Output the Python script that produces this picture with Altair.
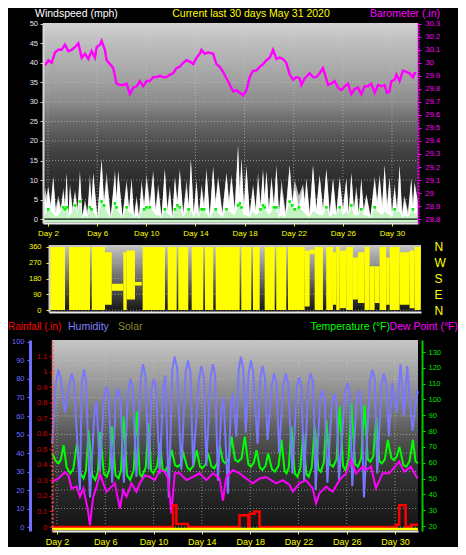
import altair as alt
import pandas as pd

FONT = "Liberation Sans"

# ---------------- data ----------------
day_ticks = [2, 6, 10, 14, 18, 22, 26, 30]
wind_ticks = [0, 5, 10, 15, 20, 25, 30, 35, 40, 45, 50]
baro_ticks = [28.8, 28.9, 29.0, 29.1, 29.2, 29.3, 29.4, 29.5, 29.6, 29.7, 29.8, 29.9, 30.0, 30.1, 30.2, 30.3]
dir_ticks = [0, 90, 180, 270, 360]
dir_names = ["N", "E", "S", "W", "N"]
hum_ticks = [0, 10, 20, 30, 40, 50, 60, 70, 80, 90, 100]
rain_ticks = [0, 0.1, 0.2, 0.3, 0.4, 0.5, 0.6, 0.7, 0.8, 0.9, 1.0, 1.1]
temp_ticks = [20, 30, 40, 50, 60, 70, 80, 90, 100, 110, 120, 130]

# wind (mph): day, average (white), gust (grey), low/avg (light green)
wind_t = [1.60, 1.76, 1.89, 2.02, 2.22, 2.43, 2.63, 2.84, 3.05, 3.25,
          3.38, 3.52, 3.66, 3.79, 4.00, 4.20, 4.40, 4.60, 4.80, 5.01,
          5.21, 5.41, 5.55, 5.68, 6.02, 6.36, 6.56, 6.77, 7.11, 7.45,
          7.58, 7.72, 8.06, 8.40, 8.60, 8.80, 9.00, 9.21, 9.41, 9.62,
          9.82, 10.02, 10.29, 10.56, 10.76, 10.97, 11.24, 11.51, 11.71, 11.92,
          12.12, 12.33, 12.53, 12.73, 13.00, 13.28, 13.45, 13.63, 13.86, 14.09,
          14.29, 14.50, 14.70, 14.90, 15.17, 15.44, 15.64, 15.85, 16.19, 16.53,
          16.73, 16.93, 17.20, 17.47, 17.61, 17.75, 17.95, 18.15, 18.42, 18.69,
          18.90, 19.10, 19.30, 19.50, 19.64, 19.78, 19.98, 20.19, 20.39, 20.59,
          20.80, 21.00, 21.33, 21.67, 21.88, 22.08, 22.42, 22.76, 22.90, 23.03,
          23.30, 23.57, 23.84, 24.11, 24.38, 24.66, 24.93, 25.20, 25.47, 25.74,
          26.01, 26.28, 26.48, 26.69, 26.90, 27.10, 27.30, 27.50, 27.70, 27.91,
          28.25, 28.59, 28.79, 28.99, 29.20, 29.40, 29.60, 29.80, 30.00, 30.21,
          30.41, 30.62, 30.82, 31.02, 31.30, 31.57, 31.70, 31.84, 32.10]
wind_avg = [3, 6, 4, 8, 3, 10.5, 1.5, 5, 2, 7,
            3, 11.5, 0.5, 8, 2, 6.5, 1.5, 11.5, 0.5, 4,
            1, 9.5, 4, 11.5, 0.3, 15, 4, 10, 0.3, 11.5,
            5, 12, 0.3, 9, 2, 10, 0.5, 5, 0.3, 9,
            3, 10, 3, 11.5, 2, 7.5, 0.3, 12.5, 2, 7,
            0.3, 10, 4, 12, 1, 8, 3, 15, 1, 9.5,
            0.5, 8, 3, 12, 0.5, 13, 4, 10, 1, 11.5,
            4, 10.5, 2, 18.5, 6, 15, 3, 13, 1, 8,
            2, 10, 3, 12, 5, 12, 2, 10, 3, 13,
            1, 8, 1, 13.5, 4, 8, 3, 8, 4, 10,
            1, 13.5, 2, 11, 2, 12.5, 1, 10, 1, 10,
            2, 10, 1, 11.5, 2, 7, 1, 10, 1.5, 6,
            0.5, 10, 4, 10.5, 3, 13.5, 3, 10, 1, 8,
            2, 13.5, 1, 5, 1, 10, 3, 9, 4]
wind_gust = [4, 8, 6, 8.5, 4, 11, 3, 6, 3, 8,
             4, 12, 1.5, 9, 3, 7.5, 3, 12.5, 1, 5,
             2, 11.5, 5, 12, 1, 15.5, 5, 12, 1, 12.5,
             6, 12.5, 1, 10, 3, 10.5, 1, 6, 0.8, 10,
             4, 11.5, 4.5, 12.5, 3, 9, 1, 13, 3, 8.5,
             1, 11, 5, 13, 2, 10, 4, 15.5, 2, 10,
             1.5, 9, 4, 13, 1, 13.5, 5, 11, 2, 12,
             5, 11.5, 3, 19, 8, 15.5, 4, 14, 2, 9,
             3, 12, 4, 13, 6, 12.5, 3, 11, 4, 14,
             2, 10, 2, 14, 5, 10, 6, 9, 5, 10.5,
             2, 14, 3, 11.5, 3, 13, 2, 10.5, 2, 11,
             3, 10.5, 2, 12, 3, 8.5, 2, 10.5, 2.5, 6.5,
             1, 11, 5, 11.5, 4, 14, 4, 11, 2, 9,
             3, 14, 2, 6, 2, 10.5, 4, 9.5, 5]
wind_low = [0.5, 1, 2, 2.5, 2, 1.5, 0.5, 1, 2, 3,
            2.5, 3, 0.3, 1, 2, 3.5, 1.2, 4.5, 0.3, 1,
            0.5, 3, 2.5, 2, 0.2, 4.5, 3.5, 2, 0.2, 4,
            3, 2, 0.2, 3, 1.8, 1.5, 0.3, 1, 0.2, 2,
            2.5, 3, 3, 2, 1, 1, 0.2, 2.5, 1.5, 1,
            0.2, 2.5, 3.5, 3, 0.5, 2, 2.5, 2, 0.5, 2,
            0.3, 2.5, 2.5, 1.5, 0.3, 2, 2.5, 1.5, 0.5, 2.5,
            2, 1.5, 1, 3.5, 4, 3, 1, 1, 0.5, 2,
            1, 1.5, 2.5, 3.5, 3, 2, 1, 2, 3, 3,
            0.5, 1, 0.5, 4.5, 3.5, 2.5, 3, 2, 1.5, 1,
            0.5, 2, 1.5, 1, 1, 3, 0.5, 1.5, 1, 3,
            1, 2, 1, 3.5, 1, 1, 1, 2.5, 1, 1,
            0.3, 3, 2, 1.5, 1, 2, 1.5, 1, 0.5, 2.5,
            1.8, 2, 0.5, 1, 0.5, 2, 2.5, 1.5, 1]

# barometer (in)
baro_t = [1.76, 2.03, 2.30, 2.57, 2.84, 3.11, 3.38, 3.65, 3.92, 4.20,
          4.47, 4.74, 5.01, 5.28, 5.55, 5.82, 5.96, 6.23, 6.36, 6.63,
          6.77, 7.04, 7.31, 7.58, 7.85, 8.12, 8.40, 8.67, 8.94, 9.21,
          9.48, 9.75, 10.02, 10.29, 10.56, 10.83, 11.11, 11.38, 11.65, 11.92,
          12.19, 12.46, 12.73, 13.00, 13.27, 13.54, 13.82, 14.09, 14.36, 14.49,
          14.76, 15.04, 15.44, 15.71, 15.98, 16.25, 16.53, 16.80, 17.07, 17.34,
          17.61, 17.88, 18.15, 18.42, 18.69, 18.96, 19.24, 19.51, 19.78, 20.05,
          20.32, 20.59, 20.86, 21.13, 21.40, 21.67, 21.95, 22.22, 22.49, 22.62,
          22.89, 23.30, 23.57, 23.84, 24.11, 24.38, 24.52, 24.79, 25.06, 25.33,
          25.60, 25.88, 26.15, 26.42, 26.69, 26.96, 27.23, 27.50, 27.77, 28.04,
          28.31, 28.59, 28.86, 29.13, 29.40, 29.59, 29.80, 29.94, 30.21, 30.35,
          30.62, 30.89, 31.16, 31.43, 31.70, 31.84, 31.97]
baro_v = [29.98, 30.02, 30.00, 30.08, 30.10, 30.10, 30.14, 30.09, 30.10, 30.12,
          30.15, 30.04, 30.07, 30.03, 30.09, 30.04, 30.12, 30.14, 30.17, 30.10,
          30.02, 29.99, 29.96, 29.84, 29.83, 29.83, 29.84, 29.76, 29.81, 29.82,
          29.86, 29.82, 29.86, 29.86, 29.89, 29.89, 29.90, 29.89, 29.89, 29.91,
          29.92, 29.96, 29.97, 30.00, 30.02, 30.01, 29.99, 30.04, 30.07, 30.10,
          30.07, 30.08, 30.07, 29.99, 29.97, 29.93, 29.88, 29.83, 29.78, 29.79,
          29.77, 29.75, 29.79, 29.89, 29.94, 29.94, 29.97, 29.99, 30.02, 30.04,
          30.10, 30.03, 30.04, 30.03, 30.00, 29.91, 29.87, 29.89, 29.88, 29.83,
          29.88, 29.92, 29.89, 29.89, 29.92, 29.96, 29.92, 29.83, 29.84, 29.86,
          29.81, 29.79, 29.82, 29.84, 29.76, 29.80, 29.81, 29.76, 29.82, 29.82,
          29.84, 29.77, 29.83, 29.82, 29.83, 29.77, 29.78, 29.86, 29.87, 29.91,
          29.86, 29.94, 29.93, 29.92, 29.89, 29.92, 29.92]

# wind direction: spans of time and the range of directions swept
dir_start = [1.60, 3.24, 5.10, 6.19, 6.74, 7.69, 7.97, 8.65, 9.28, 11.33,
             12.20, 13.30, 14.39, 15.27, 17.37, 18.33, 19.29, 20.24, 21.20, 22.57,
             22.98, 23.39, 24.34, 24.89, 25.16, 25.44, 25.98, 26.53, 26.94, 27.49,
             27.90, 28.31, 28.72, 29.26, 29.54, 30.36, 31.18, 31.59]
dir_end = [2.91, 4.96, 6.19, 6.74, 7.69, 7.97, 8.65, 9.20, 11.11, 12.07,
           13.02, 14.25, 15.07, 17.24, 18.19, 18.88, 20.11, 21.06, 22.57, 22.98,
           23.39, 24.07, 24.89, 25.16, 25.44, 25.98, 26.53, 26.94, 27.49, 27.90,
           28.31, 28.72, 29.26, 29.54, 30.36, 31.18, 31.59, 32.10]
dir_lo = [0, 0, 0, 30, 110, 0, 60, 140, 0, 0,
          0, 0, 0, 0, 0, 0, 0, 0, 0, 20,
          320, 0, 0, 30, 0, 10, 0, 60, 40, 0,
          0, 40, 0, 30, 0, 30, 10, 0]
dir_hi = [360, 360, 360, 330, 150, 330, 340, 160, 360, 360,
          360, 360, 360, 360, 360, 360, 360, 360, 360, 340,
          345, 360, 360, 330, 360, 340, 360, 300, 330, 360,
          250, 250, 360, 300, 360, 330, 340, 360]

# humidity (%)
hum_t = [1.60, 1.91, 2.11, 2.31, 2.66, 3.01, 3.21, 3.41, 3.90, 4.05,
         4.23, 4.40, 4.73, 5.10, 5.28, 5.55, 5.90, 6.10, 6.28, 6.57,
         6.87, 7.07, 7.25, 7.54, 7.89, 8.09, 8.28, 8.58, 8.93, 9.13,
         9.32, 9.60, 9.84, 10.02, 10.20, 10.51, 10.80, 10.98, 11.26, 11.55,
         11.75, 11.95, 12.30, 12.65, 12.85, 13.05, 13.27, 13.76, 13.96, 14.15,
         14.37, 14.72, 14.92, 15.10, 15.33, 15.62, 15.80, 16.16, 16.40, 16.57,
         16.85, 17.05, 17.23, 17.42, 17.64, 17.88, 18.06, 18.25, 18.61, 18.84,
         19.02, 19.22, 19.44, 19.80, 19.99, 20.18, 20.40, 20.75, 20.95, 21.15,
         21.50, 21.86, 22.06, 22.25, 22.47, 22.82, 23.02, 23.22, 23.43, 23.78,
         23.98, 24.18, 24.40, 24.75, 24.95, 25.15, 25.36, 25.85, 26.05, 26.25,
         26.46, 26.81, 27.01, 27.21, 27.43, 27.92, 28.12, 28.32, 28.53, 28.88,
         29.08, 29.28, 29.49, 29.77, 30.13, 30.46, 30.73, 31.01, 31.45, 31.83,
         31.90]
hum_v = [45, 78, 85, 80, 62, 76, 83, 78, 20, 78,
         85, 79, 16, 62, 68, 30, 70, 76, 71, 24,
         69, 75, 70, 24, 73, 80, 75, 27, 80, 88,
         82, 31, 74, 80, 75, 29, 75, 82, 16, 85,
         92, 86, 31, 83, 90, 84, 33, 80, 87, 81,
         33, 81, 88, 82, 25, 64, 70, 18, 66, 72,
         49, 85, 92, 86, 51, 83, 90, 84, 45, 80,
         87, 81, 47, 77, 83, 78, 40, 77, 83, 78,
         29, 75, 81, 76, 25, 77, 83, 78, 20, 68,
         74, 69, 24, 66, 72, 67, 25, 72, 78, 73,
         22, 68, 74, 69, 16, 78, 85, 80, 29, 77,
         83, 77, 49, 78, 62, 88, 60, 87, 52, 74,
         72]

# temperature (F)
temp_t = [1.60, 1.90, 2.14, 2.32, 2.55, 2.80, 3.10, 3.35, 3.65, 3.95,
          4.20, 4.40, 4.62, 4.92, 5.17, 5.38, 5.58, 5.88, 6.13, 6.35,
          6.55, 6.85, 7.10, 7.30, 7.51, 7.80, 8.06, 8.35, 8.61, 8.85,
          9.02, 9.35, 9.58, 9.80, 9.99, 10.30, 10.54, 10.75, 10.95, 11.25,
          11.50, 11.78, 12.00, 12.25, 12.47, 12.80, 13.02, 13.30, 13.57, 13.85,
          14.04, 14.30, 14.53, 14.80, 15.03, 15.28, 15.50, 15.75, 15.97, 16.25,
          16.46, 16.75, 17.01, 17.30, 17.56, 17.85, 18.06, 18.30, 18.53, 18.80,
          19.02, 19.28, 19.49, 19.80, 20.04, 20.35, 20.60, 20.85, 21.01, 21.20,
          21.42, 21.70, 21.92, 22.15, 22.39, 22.65, 22.85, 23.10, 23.35, 23.65,
          23.85, 24.10, 24.31, 24.60, 24.87, 25.15, 25.42, 25.70, 25.88, 26.15,
          26.38, 26.70, 26.93, 27.20, 27.48, 27.75, 27.95, 28.20, 28.45, 28.70,
          28.91, 29.15, 29.41, 29.70, 29.91, 30.15, 30.37, 30.70, 30.93, 31.20,
          31.48, 31.70, 31.89]
temp_v = [66, 61, 59.6, 62, 71.2, 57, 53.3, 56, 72.3, 53,
          50.1, 55, 80.7, 52, 49.1, 54, 79.6, 53, 51.2, 56,
          82.8, 52, 50.1, 55, 89.1, 52, 49.1, 55, 92.3, 53,
          51.2, 57, 84.9, 55, 53.3, 58, 72.3, 56, 54.3, 59,
          68, 58.5, 57.5, 59, 65.9, 57, 55.4, 58, 68, 57.5,
          56.5, 59, 65.9, 57.5, 56.5, 60, 70.1, 61, 59.6, 63,
          76.5, 62, 60.7, 63, 76.5, 59, 57.5, 60, 68, 57,
          55.4, 58, 65.9, 56, 54.3, 58, 74.4, 55, 53.3, 57,
          82.8, 53, 51.2, 56, 78.6, 53, 51.2, 57, 82.8, 56,
          54.3, 60, 87, 59, 57.5, 62, 95.4, 58, 55.4, 62,
          97.5, 59, 57.5, 63, 96.5, 62, 60.7, 64, 89.1, 61,
          59.6, 62, 74.4, 63, 61.7, 64, 70.1, 58.5, 57.5, 61,
          74.4, 61, 59.6]

# dew point (F)
dew_t = [1.60, 2.11, 2.66, 2.94, 3.21, 3.63, 3.90, 4.18, 4.51, 4.73,
         5.00, 5.28, 5.55, 5.83, 6.10, 6.38, 6.79, 7.21, 7.48, 7.76,
         8.17, 8.58, 8.86, 9.27, 9.69, 10.10, 10.51, 10.93, 11.20, 11.48,
         11.75, 12.17, 12.72, 13.27, 13.82, 14.37, 14.92, 15.47, 15.75, 16.02,
         16.57, 17.12, 17.67, 18.23, 18.78, 19.33, 20.15, 20.71, 21.26, 21.53,
         22.08, 22.63, 23.18, 23.46, 23.74, 24.29, 24.84, 25.39, 25.94, 26.35,
         26.77, 27.32, 27.59, 28.01, 28.42, 28.97, 29.52, 30.35, 30.76, 31.31,
         31.86]
dew_v = [48, 50, 54, 52, 43.8, 44.9, 38.5, 43.8, 32, 20.6,
         38.5, 44.9, 53.3, 47, 41.7, 43.8, 47, 31, 42.8, 38.5,
         47, 41.7, 47, 52, 51, 49, 55.4, 54.3, 50, 28,
         53.3, 53.3, 49, 51, 53.3, 49, 53.3, 50, 36, 51,
         55.4, 53.3, 50, 47, 50, 51, 47, 49, 46, 41.7,
         47, 49, 43.8, 34.3, 40.6, 44.9, 41.7, 49, 53.3, 61.7,
         53.3, 57.5, 55.4, 57.5, 44, 53.3, 53.3, 60.7, 54.3, 57.5,
         50]

# rainfall (in), stepped
rain_t = [1.60, 11.55, 11.61, 11.89, 12.85, 17.12, 17.85, 17.95, 18.36, 18.78,
          30.07, 30.35, 30.88, 31.31, 31.90]
rain_v = [0, 0, 0.14, 0.02, 0, 0.075, 0, 0.085, 0.10, 0,
          0.015, 0.14, 0, 0.015, 0.015]

# solar (no readings above zero)
solar_t = [1.59, 31.90]
solar_v = [0, 0]

titles_top = ["Windspeed (mph)", "Current last 30 days May 31 2020", "Barometer (.in)"]
titles_bottom = ["Rainfall (.in)", "Humidity", "Solar", "Temperature (°F)", "Dew Point (°F)"]

# ---------------- layout (svg pixels) ----------------
W, H = 450, 539
TOP_X, TOP_Y = [35, 410], [215, 15]
MID_X, MID_Y = [41, 413], [304, 237]
BOT_X, BOT_Y = [44, 410], [523, 332]

TOP_XD = [1.593, 32.116]
WIND_D = [-1.0, 50.2]
BARO_D = [28.770, 30.306]
DIR_D = [-11.4, 371.4]
BOT_XD = [1.586, 31.905]
HUM_D = [-2.16, 101.08]
RAIN_D = [-0.0257, 1.203]
TEMP_D = [16.84, 137.59]
SOLAR_D = [0, 100]


def sc(dom, rng):
    return alt.Scale(domain=dom, range=rng, nice=False, zero=False)


def grad(stops):
    return alt.Gradient(gradient="linear", x1=0, x2=0, y1=0, y2=1,
                        stops=[alt.GradientStop(offset=o, color=c) for o, c in stops])


one = pd.DataFrame({"a": [0]})


def bg(xr, yr, stops):
    return alt.Chart(one).mark_rect(fill=grad(stops)).encode(
        x=alt.value(xr[0]), x2=alt.value(xr[1]), y=alt.value(yr[1]), y2=alt.value(yr[0]))


def vgrid(xdom, xr, yr):
    return alt.Chart(pd.DataFrame({"d": day_ticks})).mark_rule(
        color="#c8c8c8", strokeDash=[1, 2], strokeWidth=1, opacity=0.6).encode(
        x=alt.X("d:Q", scale=sc(xdom, xr), axis=None),
        y=alt.value(yr[1]), y2=alt.value(yr[0]))


def hgrid(vals, ydom, yr, xr):
    return alt.Chart(pd.DataFrame({"v": vals})).mark_rule(
        color="#c8c8c8", strokeDash=[1, 2], strokeWidth=1, opacity=0.6).encode(
        y=alt.Y("v:Q", scale=sc(ydom, yr), axis=None),
        x=alt.value(xr[0]), x2=alt.value(xr[1]))


def txt(s, x, y, color, align="left", size=10.5):
    return alt.Chart(pd.DataFrame({"t": [s]})).mark_text(
        align=align, baseline="alphabetic", color=color, fontSize=size, font=FONT).encode(
        x=alt.value(x), y=alt.value(y), text="t:N")


def yaxis(orient, offset, values, color, domain_color, tick_color, pad=3, size=7.5,
          dwidth=2, dash=None, expr=None):
    kw = dict(orient=orient, offset=offset, values=values, labelColor=color,
              labelFontSize=size, labelFont=FONT, tickColor=tick_color, tickSize=3,
              domainColor=domain_color, domainWidth=dwidth, grid=False, title=None,
              labelPadding=pad, zindex=1, labelFlush=False, labelOverlap=False)
    if dash:
        kw["domainDash"] = dash
    if expr:
        kw["labelExpr"] = expr
    return alt.Axis(**kw)


def xaxis(offset, size, labels=True):
    kw = dict(orient="bottom", offset=offset, values=day_ticks, grid=False, title=None,
              domainColor="#e8e8e8", domainWidth=2, tickColor="#ffff00", tickSize=3,
              zindex=1, labelFlush=False, labelOverlap=False)
    if labels:
        kw.update(labelExpr="'Day ' + datum.value", labelColor="#ffff00",
                  labelFontSize=size, labelFont=FONT, labelPadding=3)
    else:
        kw.update(labels=False, ticks=False)
    return alt.Axis(**kw)


fmt = "format(datum.value, '~g')"

# ---------------- top panel ----------------
wind = pd.DataFrame({"t": wind_t, "avg": wind_avg, "gust": wind_gust, "low": wind_low})
baro = pd.DataFrame({"t": baro_t, "v": baro_v})

top_bg = bg(TOP_X, TOP_Y, [(0, "#d2d2d2"), (0.1, "#bdbdbd"), (0.28, "#a2a2a2"),
                           (0.4, "#8a8a8a"), (0.48, "#6e6e6e"), (0.64, "#424242"),
                           (0.77, "#2e2e2e"), (1, "#1a1a1a")])
top_vg = vgrid(TOP_XD, TOP_X, TOP_Y)
top_hg = hgrid(wind_ticks, WIND_D, TOP_Y, TOP_X)

xt = dict(scale=sc(TOP_XD, TOP_X))
gust = alt.Chart(wind).mark_area(color="#bdbdbd").encode(
    x=alt.X("t:Q", axis=None, **xt),
    y=alt.Y("gust:Q", scale=sc(WIND_D, TOP_Y), axis=None), y2=alt.datum(-0.8))
avg = alt.Chart(wind).mark_area(color="#ffffff").encode(
    x=alt.X("t:Q", axis=xaxis(TOP_Y[0] - H, 8), **xt),
    y=alt.Y("avg:Q", scale=sc(WIND_D, TOP_Y),
            axis=yaxis("left", -TOP_X[0], wind_ticks, "#e4e4f4", "#d8d8d8", "#c8c8c8", pad=2.5)),
    y2=alt.datum(-0.8))
low = alt.Chart(wind).mark_area(color="#c4f4c4").encode(
    x=alt.X("t:Q", axis=None, **xt),
    y=alt.Y("low:Q", scale=sc(WIND_D, TOP_Y), axis=None), y2=alt.datum(-0.8))
zero = alt.Chart(wind).transform_calculate(z="0").mark_line(color="#101010", strokeWidth=1.2).encode(
    x=alt.X("t:Q", axis=None, **xt),
    y=alt.Y("z:Q", scale=sc(WIND_D, TOP_Y), axis=None))
lowpk = alt.Chart(wind).transform_filter(alt.datum.low >= 2.5).mark_square(
    color="#00ee00", size=7, opacity=1).encode(
    x=alt.X("t:Q", axis=None, **xt),
    y=alt.Y("low:Q", scale=sc(WIND_D, TOP_Y), axis=None))
baro_line = alt.Chart(baro).mark_line(color="#ff00ff", strokeWidth=2.4).encode(
    x=alt.X("t:Q", axis=None, **xt),
    y=alt.Y("v:Q", scale=sc(BARO_D, TOP_Y),
            axis=yaxis("right", TOP_X[1] - W, baro_ticks, "#ff00ff", "#ff00ff", "#ff00ff",
                       pad=4, dash=[2, 1], expr=fmt)))

# ---------------- middle panel ----------------
wdir = pd.DataFrame({"s": dir_start, "e": dir_end, "lo": dir_lo, "hi": dir_hi})
mid_bg = bg(MID_X, MID_Y, [(0, "#c6c6c6"), (0.5, "#6a6a6a"), (1, "#121212")])
mid_vg = vgrid(TOP_XD, MID_X, MID_Y)
mid_hg = hgrid(dir_ticks, DIR_D, MID_Y, MID_X)
xm = dict(scale=sc(TOP_XD, MID_X))
dir_rect = alt.Chart(wdir).mark_rect(color="#ffff00").encode(
    x=alt.X("s:Q", axis=xaxis(MID_Y[0] - H, 8, labels=False), **xm), x2="e:Q",
    y=alt.Y("lo:Q", scale=sc(DIR_D, MID_Y),
            axis=yaxis("left", -MID_X[0], dir_ticks, "#ffff00", "#d0d0d0", "#ffff00", pad=5)),
    y2="hi:Q")
compass_expr = " : ".join(
    f"datum.value == {v} ? '{n}'" for v, n in zip(dir_ticks, dir_names)) + " : ''"
dir_names_axis = alt.Chart(wdir).mark_rect(opacity=0).encode(
    x=alt.X("s:Q", axis=None, **xm), x2="e:Q",
    y=alt.Y("lo:Q", scale=sc(DIR_D, MID_Y),
            axis=alt.Axis(orient="right", offset=421 - W, values=dir_ticks, labelExpr=compass_expr,
                          labelColor="#ffff00", labelFontSize=12, labelFont=FONT, domain=False,
                          ticks=False, grid=False, title=None, labelPadding=5, zindex=1,
                          labelFlush=False, labelOverlap=False)),
    y2="hi:Q")

# ---------------- bottom panel ----------------
hum = pd.DataFrame({"t": hum_t, "v": hum_v})
temp = pd.DataFrame({"t": temp_t, "v": temp_v})
dew = pd.DataFrame({"t": dew_t, "v": dew_v})
rain = pd.DataFrame({"t": rain_t, "v": rain_v})
solar = pd.DataFrame({"t": solar_t, "v": solar_v})

bot_bg = bg(BOT_X, BOT_Y, [(0, "#c6c6c6"), (0.32, "#848484"), (0.5, "#555555"),
                           (0.67, "#363636"), (0.85, "#222222"), (1, "#141414")])
bot_vg = vgrid(BOT_XD, BOT_X, BOT_Y)
bot_hg = hgrid(hum_ticks, HUM_D, BOT_Y, BOT_X)
xb = dict(scale=sc(BOT_XD, BOT_X))

temp_line = alt.Chart(temp).mark_line(color="#00ff00", strokeWidth=2).encode(
    x=alt.X("t:Q", axis=None, **xb),
    y=alt.Y("v:Q", scale=sc(TEMP_D, BOT_Y),
            axis=yaxis("right", 414 - W, temp_ticks, "#00e000", "#00c800", "#00e000", pad=3)))
hum_line = alt.Chart(hum).mark_line(color="#7878ff", strokeWidth=2).encode(
    x=alt.X("t:Q", axis=xaxis(BOT_Y[0] - H, 9), **xb),
    y=alt.Y("v:Q", scale=sc(HUM_D, BOT_Y),
            axis=yaxis("left", -22, hum_ticks, "#6c6cff", "#7070ff", "#7070ff", pad=3, dwidth=3)))
dew_line = alt.Chart(dew).mark_line(color="#ff00ff", strokeWidth=2).encode(
    x=alt.X("t:Q", axis=None, **xb),
    y=alt.Y("v:Q", scale=sc(TEMP_D, BOT_Y), axis=None))
rain_line = alt.Chart(rain).mark_line(color="#ff0000", strokeWidth=2.5, interpolate="step-after").encode(
    x=alt.X("t:Q", axis=None, **xb),
    y=alt.Y("v:Q", scale=sc(RAIN_D, BOT_Y),
            axis=yaxis("left", -BOT_X[0], rain_ticks, "#d80000", "#ff5050", "#e00000",
                       pad=2, dash=[2, 2], expr=fmt)))
solar_line = alt.Chart(solar).mark_line(color="#ffff00", strokeWidth=2.5).encode(
    x=alt.X("t:Q", axis=None, **xb),
    y=alt.Y("v:Q", scale=sc(SOLAR_D, [521, 332]), axis=None))

# ---------------- texts ----------------
texts = [
    txt(titles_top[0], 27, 8.5, "#ffffff"),
    txt(titles_top[1], 243, 8.5, "#ffff00", align="center"),
    txt(titles_top[2], 432, 8.5, "#ff00ff", align="right"),
    txt(titles_bottom[0], 0, 322, "#ff0000", size=10),
    txt(titles_bottom[1], 60, 322, "#8080ff"),
    txt(titles_bottom[2], 110, 322, "#8a8a30"),
    txt(titles_bottom[3], 382, 322, "#00ff00", align="right"),
    txt(titles_bottom[4], 450, 322, "#ff00ff", align="right"),
]

chart = alt.layer(
    top_bg, top_vg, top_hg, gust, avg, low, zero, lowpk, baro_line,
    mid_bg, mid_vg, mid_hg, dir_rect, dir_names_axis,
    bot_bg, bot_vg, bot_hg, temp_line, hum_line, dew_line, rain_line, solar_line,
    *texts,
).resolve_scale(x="independent", y="independent").properties(
    width=W, height=H, padding=0, background="#000000",
    autosize=alt.AutoSizeParams(type="none"),
).configure_view(strokeWidth=0)

chart.save("out.html", embed_options={"renderer": "svg", "actions": False})
